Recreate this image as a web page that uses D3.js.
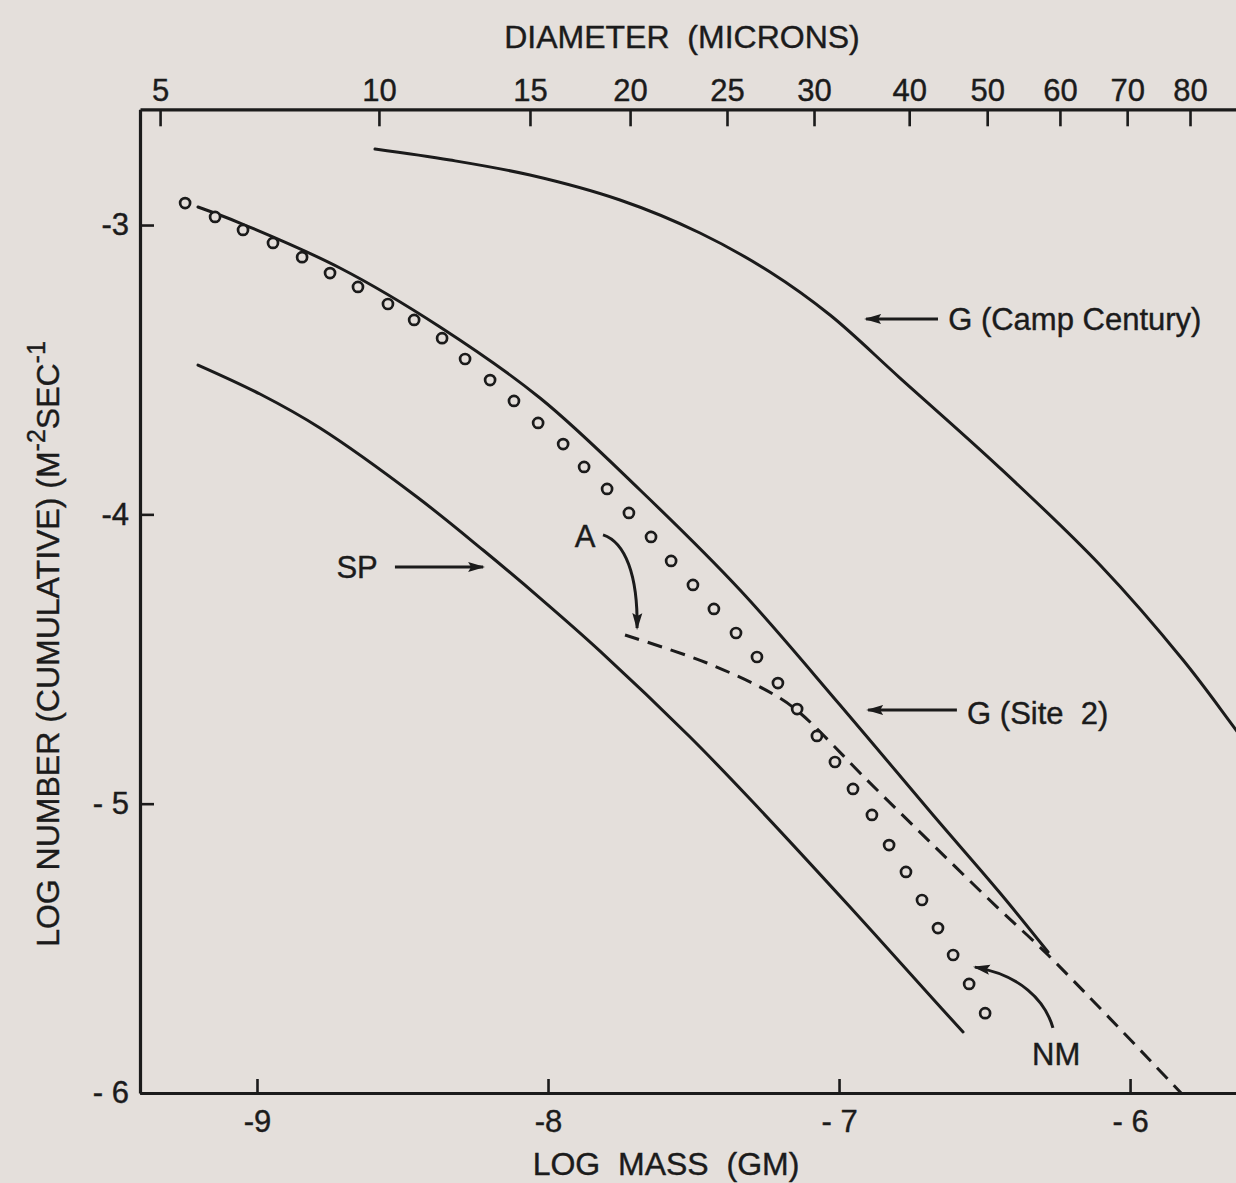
<!DOCTYPE html>
<html>
<head>
<meta charset="utf-8">
<script src="https://cdn.jsdelivr.net/npm/d3@7"></script>
<style>
  html, body { margin: 0; padding: 0; background: #e4dfdb; }
  svg { display: block; }
  text { font-family: "Liberation Sans", Arial, sans-serif; fill: #1b1b1b; stroke: #1b1b1b; stroke-width: 0.4px; }
</style>
</head>
<body>
<svg id="chart" width="1236" height="1183"></svg>
<script>
// ---- axis ticks ----
const massTicks = [-9, -8, -7, -6];
const massTickLabels = ["-9", "-8", "- 7", "- 6"];
const numberTicks = [-6, -5, -4, -3];
const numberTickLabels = ["- 6", "- 5", "-4", "-3"];
// diameter scale on top, placed at the log mass of each diameter
const diameterTicks = [5, 10, 15, 20, 25, 30, 40, 50, 60, 70, 80];
const diameterTickMass = [-9.333, -8.581, -8.062, -7.718, -7.385, -7.086, -6.759, -6.491, -6.241, -6.010, -5.794];

// ---- G (Camp Century) ----
const campMass   = [-8.5945, -8.3368, -8.0619, -7.7526, -7.4777, -7.2371, -7.0309, -6.7904, -6.4467, -6.1031, -5.8179, -5.6357, -5.450];
const campNumber = [-2.7373, -2.7753, -2.8272, -2.9136, -3.0276, -3.1624, -3.3111, -3.5288, -3.8399, -4.1751, -4.5035, -4.7454, -4.998];

// ---- G (Site 2) ----
const site2Mass   = [-9.2027, -9.0584, -8.7148, -8.3711, -8.0275, -7.6838, -7.3402, -6.9966, -6.6770, -6.4467, -6.2818];
const site2Number = [-2.9378, -2.9931, -3.1486, -3.3525, -3.5979, -3.9159, -4.2615, -4.6590, -5.0392, -5.3088, -5.5127];

// ---- A (dashed) ----
const aMass   = [-7.7354, -7.4536, -7.2268, -7.1340, -6.9038, -6.6770, -6.4467, -6.2818, -5.8247];
const aNumber = [-4.4171, -4.5138, -4.6210, -4.6866, -4.9182, -5.1429, -5.3676, -5.5231, -6.0];

// ---- SP ----
const spMass   = [-9.2027, -8.9897, -8.7835, -8.4502, -8.2234, -8.0275, -7.8213, -7.5120, -7.3058, -6.9622, -6.6770, -6.5739];
const spNumber = [-3.4839, -3.5841, -3.7016, -3.9401, -4.1233, -4.2892, -4.4724, -4.7696, -4.9839, -5.3572, -5.6752, -5.7892];

// ---- NM (open circles) ----
const nmMass = [-9.247, -9.144, -9.048, -8.945, -8.845, -8.749, -8.653, -8.550, -8.460, -8.364,
                -8.285, -8.199, -8.117, -8.034, -7.948, -7.876, -7.797, -7.722, -7.646, -7.577,
                -7.502, -7.430, -7.354, -7.282, -7.210, -7.144, -7.076, -7.014, -6.952, -6.887,
                -6.828, -6.770, -6.715, -6.660, -6.608, -6.553, -6.498];
const nmNumber = [-2.924, -2.972, -3.017, -3.062, -3.111, -3.166, -3.214, -3.273, -3.328, -3.391,
                  -3.463, -3.536, -3.608, -3.684, -3.757, -3.836, -3.912, -3.995, -4.078, -4.161,
                  -4.244, -4.327, -4.410, -4.493, -4.583, -4.673, -4.766, -4.856, -4.949, -5.039,
                  -5.143, -5.236, -5.333, -5.430, -5.523, -5.623, -5.724];

const ink = "#1b1b1b";
const paper = "#e4dfdb";
const svg = d3.select("#chart");

const x = d3.scaleLinear().domain([-9.402, -5.636]).range([140, 1236]);
const y = d3.scaleLinear().domain([-6, -2.6]).range([1093, 109.3]);

const zip = (xs, ys) => xs.map((v, i) => [v, ys[i]]);
const line = d3.line().x(d => x(d[0])).y(d => y(d[1])).curve(d3.curveCatmullRom.alpha(0.5));

// arrowhead marker
const defs = svg.append("defs");
defs.append("marker")
  .attr("id", "head")
  .attr("markerUnits", "userSpaceOnUse")
  .attr("viewBox", "0 0 17 11")
  .attr("refX", 15).attr("refY", 5.5)
  .attr("markerWidth", 17).attr("markerHeight", 11)
  .attr("orient", "auto")
  .append("path").attr("d", "M0,0.5 L17,5.5 L0,10.5 L3,5.5 Z").attr("fill", ink);

defs.append("clipPath").attr("id", "plot")
  .append("rect").attr("x", 140).attr("y", y(-2.6)).attr("width", 1100).attr("height", y(-6) - y(-2.6));

// ---- axes ----
function styleAxis(g) {
  g.selectAll(".domain").attr("stroke", ink).attr("stroke-width", 3.2);
  g.selectAll(".tick line").attr("stroke", ink).attr("stroke-width", 2.6);
  g.selectAll(".tick text").style("font-size", "31px").attr("fill", ink);
}

svg.append("g")
  .attr("transform", `translate(0,${y(-6)})`)
  .call(d3.axisBottom(x).tickValues(massTicks).tickSizeInner(-14).tickSizeOuter(0).tickPadding(17)
        .tickFormat((d, i) => massTickLabels[i]))
  .call(styleAxis);

svg.append("g")
  .attr("transform", `translate(0,${y(-2.6)})`)
  .call(d3.axisTop(x).tickValues(diameterTickMass).tickSizeInner(-17).tickSizeOuter(0).tickPadding(8)
        .tickFormat((d, i) => diameterTicks[i]))
  .call(styleAxis);

svg.append("g")
  .attr("transform", `translate(${x(-9.402)},0)`)
  .call(d3.axisLeft(y).tickValues(numberTicks).tickSizeInner(-14).tickSizeOuter(0).tickPadding(11)
        .tickFormat((d, i) => numberTickLabels[i]))
  .call(styleAxis);

// ---- axis titles ----
svg.append("text").attr("x", 682).attr("y", 48).attr("text-anchor", "middle")
  .style("font-size", "32px").style("white-space", "pre").text("DIAMETER  (MICRONS)");

svg.append("text").attr("x", 666).attr("y", 1175).attr("text-anchor", "middle")
  .style("font-size", "32px").style("white-space", "pre").text("LOG  MASS  (GM)");

const yt = svg.append("text")
  .attr("transform", "translate(59,644) rotate(-90)")
  .attr("text-anchor", "middle")
  .style("font-size", "32px");
yt.append("tspan").text("LOG NUMBER (CUMULATIVE) (M");
yt.append("tspan").attr("dy", -14).style("font-size", "25px").text("-2");
yt.append("tspan").attr("dy", 14).text("SEC");
yt.append("tspan").attr("dy", -14).style("font-size", "25px").text("-1");

// ---- curves ----
const plot = svg.append("g").attr("clip-path", "url(#plot)");

const curveStyle = sel => sel.attr("fill", "none").attr("stroke", ink).attr("stroke-width", 3)
  .attr("stroke-linecap", "round").attr("stroke-linejoin", "round");

plot.append("path").datum(zip(campMass, campNumber)).attr("d", line).call(curveStyle);
plot.append("path").datum(zip(site2Mass, site2Number)).attr("d", line).call(curveStyle);
plot.append("path").datum(zip(spMass, spNumber)).attr("d", line).call(curveStyle);
plot.append("path").datum(zip(aMass, aNumber)).attr("d", line).call(curveStyle)
  .attr("stroke-dasharray", "15 9").attr("stroke-linecap", "butt");

plot.selectAll("circle.nm").data(zip(nmMass, nmNumber)).join("circle")
  .attr("class", "nm")
  .attr("cx", d => x(d[0])).attr("cy", d => y(d[1])).attr("r", 5)
  .attr("fill", paper).attr("stroke", ink).attr("stroke-width", 2.7);

// ---- labels with arrows ----
const arrowStyle = sel => sel.attr("fill", "none").attr("stroke", ink).attr("stroke-width", 3)
  .attr("marker-end", "url(#head)");
const P = (mx, ny) => `${x(mx)},${y(ny)}`;

// G (Camp Century)
svg.append("path").attr("d", `M${P(-6.660, -3.325)} L${P(-6.907, -3.325)}`).call(arrowStyle);
svg.append("text").attr("x", x(-6.625)).attr("y", y(-3.363)).style("font-size", "31px")
  .style("white-space", "pre").text("G (Camp Century)");

// G (Site 2)
svg.append("path").attr("d", `M${P(-6.595, -4.676)} L${P(-6.900, -4.676)}`).call(arrowStyle);
svg.append("text").attr("x", x(-6.560)).attr("y", y(-4.725)).style("font-size", "31px")
  .style("white-space", "pre").text("G (Site  2)");

// SP
svg.append("text").attr("x", x(-8.656)).attr("y", y(-4.220)).attr("text-anchor", "middle")
  .style("font-size", "31px").text("SP");
svg.append("path").attr("d", `M${P(-8.526, -4.182)} L${P(-8.223, -4.182)}`).call(arrowStyle);

// A
svg.append("text").attr("x", x(-7.873)).attr("y", y(-4.113)).attr("text-anchor", "middle")
  .style("font-size", "31px").text("A");
svg.append("path")
  .attr("d", `M${P(-7.811, -4.071)} C${P(-7.735, -4.096)} ${P(-7.691, -4.210)} ${P(-7.694, -4.393)}`)
  .call(arrowStyle);

// NM
svg.append("text").attr("x", x(-6.254)).attr("y", y(-5.903)).attr("text-anchor", "middle")
  .style("font-size", "31px").text("NM");
svg.append("path")
  .attr("d", `M${P(-6.265, -5.775)} C${P(-6.292, -5.679)} ${P(-6.378, -5.592)} ${P(-6.533, -5.565)}`)
  .call(arrowStyle);
</script>
</body>
</html>
